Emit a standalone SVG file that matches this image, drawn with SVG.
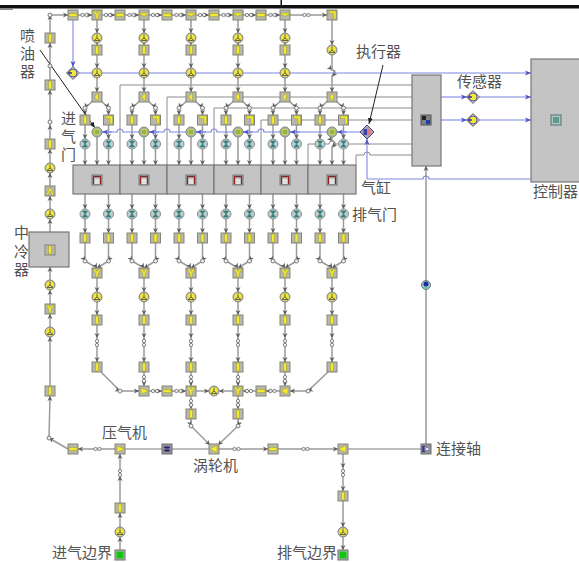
<svg xmlns="http://www.w3.org/2000/svg" width="579" height="562" viewBox="0 0 579 562">
<style>
.f{fill:none;stroke:#9a9a9a;stroke-width:1.5;marker-mid:url(#a);marker-end:url(#a)}
.p{fill:none;stroke:#a8a8a8;stroke-width:1.6}
.k{fill:none;stroke:#8c8c8c;stroke-width:1}
.b{fill:none;stroke:#7f86e4;stroke-width:1.1}
.ba{fill:none;stroke:#7f86e4;stroke-width:1.1;marker-end:url(#ab)}
.blk{fill:none;stroke:#222;stroke-width:1;marker-end:url(#ak)}
.bl{fill:#c4c4c4;stroke:#777;stroke-width:1.2}
.fr{fill:#b8b8aa;stroke:#85857a;stroke-width:1}
.y{fill:#f2e930;stroke:#8a8a30;stroke-width:.4}
.t{font-family:"Liberation Sans","Noto Sans CJK SC",sans-serif;font-size:15px;fill:#525252}
</style>
<defs>
<marker id="a" markerUnits="userSpaceOnUse" markerWidth="7" markerHeight="7" refX="5" refY="3.5" orient="auto"><path d="M0 1L5 3.5L0 6L1.5 3.5z" fill="#5c5c5c"/></marker>
<marker id="ab" markerUnits="userSpaceOnUse" markerWidth="8" markerHeight="8" refX="6" refY="4" orient="auto"><path d="M0 1.5L6 4L0 6.5L1.5 4z" fill="#4c54c8"/></marker>
<marker id="ak" markerUnits="userSpaceOnUse" markerWidth="8" markerHeight="8" refX="6" refY="4" orient="auto"><path d="M0 1.5L6 4L0 6.5z" fill="#222"/></marker>
<g id="vb"><rect class="fr" x="-5" y="-5" width="10" height="10"/><rect class="y" x="-1.500" y="-4" width="3" height="8"/></g>
<g id="hb"><rect class="fr" x="-5" y="-5" width="10" height="10"/><rect class="y" x="-4" y="-1.500" width="8" height="3"/></g>
<g id="tee"><rect class="fr" x="-5" y="-5" width="10" height="10"/><path class="y" d="M-4-2H4V0L1.500 0L0 2L-1.500 0H-4z"/></g>
<g id="yy"><rect class="fr" x="-5" y="-5" width="10" height="10"/><path class="y" d="M-4-4H-1.500L0-1.500L1.500-4H4L1.200 0.500V4H-1.200V0.500z"/></g>
<g id="aa"><rect class="fr" x="-5" y="-5" width="10" height="10"/><path class="y" d="M0-4L4 4H2L0 0L-2 4H-4z"/></g>
<g id="sp"><rect class="fr" x="-5" y="-5" width="10" height="10"/><path class="y" d="M1.500-4V4L-2 1V-1z"/></g>
<g id="crr"><rect class="fr" x="-5" y="-5" width="10" height="10"/><path class="y" d="M-3-4H4V4H1.500V-1.500H-3z"/></g>
<g id="cm"><rect class="fr" x="-5" y="-5" width="10" height="10"/><path class="y" d="M-3-3L3-1V1L-3 3z"/></g>
<g id="tu"><rect class="fr" x="-5" y="-5" width="10" height="10"/><path class="y" d="M3-3.500V3.500L-3 1V-1z"/></g>
<g id="c"><circle r="5" fill="#b8b8a8" stroke="#85857a"/><circle r="3.800" fill="#f2e930"/><path d="M0-3.500V0L-3 2.500H3L0 0" fill="none" stroke="#555" stroke-width=".9"/></g>
<circle id="o" r="2" fill="#eee" stroke="#707070" stroke-width=".9"/>
<g id="oo"><circle cx="-2.500" r="1.700" fill="#eee" stroke="#707070" stroke-width=".8"/><circle cx="1.500" r="1.700" fill="#eee" stroke="#707070" stroke-width=".8"/></g>
<g id="ov"><circle cy="-2" r="1.700" fill="#eee" stroke="#707070" stroke-width=".8"/><circle cy="2" r="1.700" fill="#eee" stroke="#707070" stroke-width=".8"/></g>
<g id="v"><circle r="5" fill="#c0cccc" stroke="#8a9090"/><path d="M-2.500-3H2.500L-2.500 3H2.500z" fill="#2a8a8a" stroke="#2a7070" stroke-width=".6"/></g>
<g id="inj"><circle r="5" fill="#a8b4a0" stroke="#80887c"/><rect x="-3" y="-2.500" width="6" height="5" fill="#e8e040"/><path d="M-2.500-1H2.500M-2.500 1H2.500" stroke="#207050" stroke-width=".8"/></g>
<g id="cy"><rect x="-5" y="-5" width="10" height="10" fill="#a09a98" stroke="#777"/><path d="M-3.500 4V-3.500H3.500V4" fill="none" stroke="#8a2020" stroke-width="1"/><rect x="-2.500" y="-1.500" width="5" height="5.500" fill="#e2e2e2"/></g>
<g id="gr"><rect x="-5" y="-5" width="10" height="10" fill="#b0b8b0" stroke="#707070"/><rect x="-3.500" y="-3.500" width="7" height="7" fill="#10c810"/></g>
<g id="sh"><rect x="-5" y="-5" width="10" height="10" fill="#8e8e98" stroke="#707070"/><path d="M-3-1.500H3M-3 1.500H3M-1-3V3M1-3V3" stroke="#1c1c70" stroke-width=".9"/></g>
<g id="cs"><rect x="-5" y="-5" width="10" height="10" fill="#8e8e98" stroke="#707070"/><path d="M3 0H-2.500M-1 -2.500H-3V2.500H-1" fill="none" stroke="#1c1c90" stroke-width="1.200"/><rect x="-.5" y="-1" width="3" height="2" fill="#e8e8f8"/></g>
<g id="dia"><path d="M0-6.500L6.500 0L0 6.500L-6.500 0z" fill="#c8c8c0" stroke="#6a6a70"/><circle r="4" fill="#f2e930" stroke="#3c44c8" stroke-width=".9"/><path d="M-5.500 0H-1" stroke="#2830b0" stroke-width="1.500"/></g>
<g id="act"><path d="M0-7L7 0L0 7L-7 0z" fill="#a8a8b8" stroke="#40407c"/><rect x="-3.500" y="-3" width="3.500" height="6" fill="#3c44a8"/><rect y="-3" x="0" width="3.500" height="6" fill="#e87878"/></g>
</defs>
<rect width="579" height="562" fill="#ffffff"/>
<rect x="0" y="5" width="579" height="3.500" fill="#111"/>
<rect x="0" y="8.500" width="13" height="1.500" fill="#888"/>
<rect x="280.500" y="0" width="1.500" height="5" fill="#111"/>

<g id="connectors">
<path class="k" d="M120 165V85H412M167 165V97H412M214 165V108H412M261 165V120H412M308 165V144H329A3 3 0 0 1 335 144H412M356 165V155H364A3 3 0 0 1 370 155H412"/>
<path class="f" d="M50 15H68H92H115H139H162H186H209H233H256H280H327"/>
<path class="f" d="M49 438L50 396V337V314V290V267"/>
<path class="f" d="M50 232V219V196V173V149V125V90V43V15"/>
<path class="f" d="M97 20V33V45V68V92"/><path class="f" d="M144 20V33V45V68V92"/><path class="f" d="M191 20V33V45V68V92"/><path class="f" d="M238 20V33V45V68V92"/><path class="f" d="M285 20V33V45V68V92"/>
<path class="f" d="M332 20V45"/><path class="f" d="M332 55V70A3 3 0 0 1 332 76V92"/>
<path class="f" d="M97 97L85 108V115V139V165"/><path class="f" d="M97 97L108.500 108V115V139V165"/><path class="f" d="M97 137V165"/>
<path class="f" d="M144 97L132 108V115V139V165"/><path class="f" d="M144 97L155.500 108V115V139V165"/><path class="f" d="M144 137V165"/>
<path class="f" d="M191 97L179 108V115V139V165"/><path class="f" d="M191 97L202.500 108V115V139V165"/><path class="f" d="M191 137V165"/>
<path class="f" d="M238 97L226 108V115V139V165"/><path class="f" d="M238 97L249.500 108V115V139V165"/><path class="f" d="M238 137V165"/>
<path class="f" d="M285 97L273 108V115V139V165"/><path class="f" d="M285 97L296.500 108V115V139V165"/><path class="f" d="M285 137V165"/>
<path class="f" d="M332 97L320 108V115V139V165"/><path class="f" d="M332 97L343.500 108V115V139V165"/><path class="f" d="M332 137V141A3 3 0 0 1 332 147V165"/>
<path class="f" d="M85 194V209V233V261L97 268V292V315V338V362"/><path class="f" d="M108.500 194V209V233V261L97 268"/>
<path class="f" d="M132 194V209V233V261L144 268V292V315V338V362"/><path class="f" d="M155.500 194V209V233V261L144 268"/>
<path class="f" d="M179 194V209V233V261L191 268V292V315V338V362"/><path class="f" d="M202.500 194V209V233V261L191 268"/>
<path class="f" d="M226 194V209V233V261L238 268V292V315V338V362"/><path class="f" d="M249.500 194V209V233V261L238 268"/>
<path class="f" d="M273 194V209V233V261L285 268V292V315V338V362"/><path class="f" d="M296.500 194V209V233V261L285 268"/>
<path class="f" d="M320 194V209V233V261L332 268V292V315V338V362"/><path class="f" d="M343.500 194V209V233V261L332 268"/>
<path class="f" d="M101 372L120 391H139"/><path class="f" d="M149 391H162"/><path class="f" d="M172 391H186"/><path class="f" d="M196 391H209"/>
<path class="f" d="M328 372L308 391H290"/><path class="f" d="M280 391H266"/><path class="f" d="M256 391H243"/><path class="f" d="M233 391H219"/>
<path class="f" d="M144 372V386"/><path class="f" d="M191 372V386"/><path class="f" d="M238 372V386"/><path class="f" d="M285 372V386"/>
<path class="f" d="M191 396V409"/><path class="f" d="M238 396V409"/>
<path class="f" d="M191 419V426L210 445"/><path class="f" d="M238 419V426L218 445"/>
<path class="f" d="M115 449H78"/>
<path class="f" d="M68 449L49 438"/>
<path class="f" d="M219 449H268"/><path class="f" d="M278 449H338"/>
<path class="p" d="M125 449H209M348 449H421"/>
<path class="f" d="M120 550V537V513V476V454"/>
<path class="f" d="M343 454V468V491V527V550"/>
<path class="f" d="M426 444V166"/>
<path class="ba" d="M73 20V67"/>
<path class="ba" d="M80 73H531"/>
<path class="ba" d="M441 97H467"/><path class="ba" d="M479 97H531"/>
<path class="ba" d="M441 120H467"/><path class="ba" d="M479 120H531"/>
<path class="b" d="M360 132H264A3 3 0 0 0 258 132H217A3 3 0 0 0 211 132H170A3 3 0 0 0 164 132H123A3 3 0 0 0 117 132H102"/>
<path class="ba" d="M112 132H102"/><path class="ba" d="M159 132H149"/><path class="ba" d="M206 132H196"/><path class="ba" d="M253 132H243"/><path class="ba" d="M300 132H290"/><path class="ba" d="M347 132H337"/>
<path class="b" d="M367 179H423A3 3 0 0 1 429 179H531"/>
<path class="ba" d="M367 179V139"/>
<path class="blk" d="M40 50L95 128"/>
<path class="blk" d="M383 65L369 124"/>
</g>

<g id="cyl-1"><rect class="bl" x="73" y="165" width="47" height="29"/><use href="#cy" x="97" y="180"/></g>
<g id="cyl-2"><rect class="bl" x="120" y="165" width="47" height="29"/><use href="#cy" x="144" y="180"/></g>
<g id="cyl-3"><rect class="bl" x="167" y="165" width="47" height="29"/><use href="#cy" x="191" y="180"/></g>
<g id="cyl-4"><rect class="bl" x="214" y="165" width="47" height="29"/><use href="#cy" x="238" y="180"/></g>
<g id="cyl-5"><rect class="bl" x="261" y="165" width="47" height="29"/><use href="#cy" x="285" y="180"/></g>
<g id="cyl-6"><rect class="bl" x="308" y="165" width="48" height="29"/><use href="#cy" x="332" y="180"/></g>
<g id="intercooler"><rect class="bl" x="29" y="232" width="40" height="35"/><use href="#vb" x="50" y="250"/></g>
<g id="ecu"><rect class="bl" x="412" y="75" width="29" height="91"/><rect x="421" y="115" width="10" height="10" fill="#808088" stroke="#555"/><rect x="422" y="116" width="4" height="4" fill="#222"/><rect x="426" y="120" width="4" height="4" fill="#2040b0"/></g>
<g id="controller"><rect class="bl" x="531" y="59" width="50" height="123"/><rect x="551" y="115" width="10" height="10" fill="#a8c8c0" stroke="#507070"/><path d="M553 118H559M553 120H559M553 122H559" stroke="#0a6050" stroke-width=".9"/></g>

<g id="left-pipe">
<use href="#o" x="50" y="15"/><use href="#vb" x="50" y="38"/><use href="#o" x="50" y="66"/><use href="#vb" x="50" y="85"/><use href="#o" x="50" y="122"/><use href="#vb" x="50" y="144"/><use href="#c" x="50" y="168"/><use href="#aa" x="50" y="191"/><use href="#c" x="50" y="214"/><use href="#c" x="50" y="285"/><use href="#yy" x="50" y="309"/><use href="#c" x="50" y="332"/><use href="#vb" x="50" y="391"/><use href="#o" x="49" y="438"/>
</g>
<g id="top-row">
<use href="#hb" x="73" y="15"/><use href="#yy" x="97" y="15"/><use href="#hb" x="120" y="15"/><use href="#tee" x="144" y="15"/><use href="#hb" x="167" y="15"/><use href="#tee" x="191" y="15"/><use href="#hb" x="214" y="15"/><use href="#tee" x="238" y="15"/><use href="#hb" x="261" y="15"/><use href="#tee" x="285" y="15"/><use href="#crr" x="332" y="15"/>
<use href="#oo" x="85" y="15"/><use href="#oo" x="108.500" y="15"/><use href="#oo" x="132" y="15"/><use href="#oo" x="155.500" y="15"/><use href="#oo" x="179" y="15"/><use href="#oo" x="202.500" y="15"/><use href="#oo" x="226" y="15"/><use href="#oo" x="249.500" y="15"/><use href="#oo" x="273" y="15"/><use href="#oo" x="307" y="15"/>
</g>
<g id="col-1">
<use href="#c" x="97" y="38"/><use href="#vb" x="97" y="50"/><use href="#c" x="97" y="73"/><use href="#sp" x="97" y="97"/><use href="#o" x="85" y="108"/><use href="#o" x="108.500" y="108"/><use href="#vb" x="85" y="120"/><use href="#crr" x="108.500" y="120"/><use href="#inj" x="97" y="132"/><use href="#v" x="85" y="144"/><use href="#v" x="108.500" y="144"/><use href="#v" x="85" y="214"/><use href="#v" x="108.500" y="214"/><use href="#vb" x="85" y="238"/><use href="#vb" x="108.500" y="238"/><use href="#o" x="85" y="261"/><use href="#o" x="108.500" y="261"/><use href="#yy" x="97" y="273"/><use href="#c" x="97" y="297"/><use href="#vb" x="97" y="320"/><use href="#ov" x="97" y="343"/><use href="#vb" x="97" y="367"/>
</g>
<g id="col-2">
<use href="#c" x="144" y="38"/><use href="#vb" x="144" y="50"/><use href="#c" x="144" y="73"/><use href="#sp" x="144" y="97"/><use href="#o" x="132" y="108"/><use href="#o" x="155.500" y="108"/><use href="#vb" x="132" y="120"/><use href="#crr" x="155.500" y="120"/><use href="#inj" x="144" y="132"/><use href="#v" x="132" y="144"/><use href="#v" x="155.500" y="144"/><use href="#v" x="132" y="214"/><use href="#v" x="155.500" y="214"/><use href="#vb" x="132" y="238"/><use href="#vb" x="155.500" y="238"/><use href="#o" x="132" y="261"/><use href="#o" x="155.500" y="261"/><use href="#yy" x="144" y="273"/><use href="#c" x="144" y="297"/><use href="#vb" x="144" y="320"/><use href="#ov" x="144" y="343"/><use href="#vb" x="144" y="367"/>
</g>
<g id="col-3">
<use href="#c" x="191" y="38"/><use href="#vb" x="191" y="50"/><use href="#c" x="191" y="73"/><use href="#sp" x="191" y="97"/><use href="#o" x="179" y="108"/><use href="#o" x="202.500" y="108"/><use href="#vb" x="179" y="120"/><use href="#crr" x="202.500" y="120"/><use href="#inj" x="191" y="132"/><use href="#v" x="179" y="144"/><use href="#v" x="202.500" y="144"/><use href="#v" x="179" y="214"/><use href="#v" x="202.500" y="214"/><use href="#vb" x="179" y="238"/><use href="#vb" x="202.500" y="238"/><use href="#o" x="179" y="261"/><use href="#o" x="202.500" y="261"/><use href="#yy" x="191" y="273"/><use href="#c" x="191" y="297"/><use href="#vb" x="191" y="320"/><use href="#ov" x="191" y="343"/><use href="#vb" x="191" y="367"/>
</g>
<g id="col-4">
<use href="#c" x="238" y="38"/><use href="#vb" x="238" y="50"/><use href="#c" x="238" y="73"/><use href="#sp" x="238" y="97"/><use href="#o" x="226" y="108"/><use href="#o" x="249.500" y="108"/><use href="#vb" x="226" y="120"/><use href="#crr" x="249.500" y="120"/><use href="#inj" x="238" y="132"/><use href="#v" x="226" y="144"/><use href="#v" x="249.500" y="144"/><use href="#v" x="226" y="214"/><use href="#v" x="249.500" y="214"/><use href="#vb" x="226" y="238"/><use href="#vb" x="249.500" y="238"/><use href="#o" x="226" y="261"/><use href="#o" x="249.500" y="261"/><use href="#yy" x="238" y="273"/><use href="#c" x="238" y="297"/><use href="#vb" x="238" y="320"/><use href="#ov" x="238" y="343"/><use href="#vb" x="238" y="367"/>
</g>
<g id="col-5">
<use href="#c" x="285" y="38"/><use href="#vb" x="285" y="50"/><use href="#c" x="285" y="73"/><use href="#sp" x="285" y="97"/><use href="#o" x="273" y="108"/><use href="#o" x="296.500" y="108"/><use href="#vb" x="273" y="120"/><use href="#crr" x="296.500" y="120"/><use href="#inj" x="285" y="132"/><use href="#v" x="273" y="144"/><use href="#v" x="296.500" y="144"/><use href="#v" x="273" y="214"/><use href="#v" x="296.500" y="214"/><use href="#vb" x="273" y="238"/><use href="#vb" x="296.500" y="238"/><use href="#o" x="273" y="261"/><use href="#o" x="296.500" y="261"/><use href="#yy" x="285" y="273"/><use href="#c" x="285" y="297"/><use href="#vb" x="285" y="320"/><use href="#ov" x="285" y="343"/><use href="#vb" x="285" y="367"/>
</g>
<g id="col-6">
<use href="#c" x="332" y="50"/><use href="#sp" x="332" y="97"/><use href="#o" x="320" y="108"/><use href="#o" x="343.500" y="108"/><use href="#vb" x="320" y="120"/><use href="#crr" x="343.500" y="120"/><use href="#inj" x="332" y="132"/><use href="#v" x="320" y="144"/><use href="#v" x="343.500" y="144"/><use href="#v" x="320" y="214"/><use href="#v" x="343.500" y="214"/><use href="#vb" x="320" y="238"/><use href="#vb" x="343.500" y="238"/><use href="#o" x="320" y="261"/><use href="#o" x="343.500" y="261"/><use href="#yy" x="332" y="273"/><use href="#c" x="332" y="297"/><use href="#vb" x="332" y="320"/><use href="#ov" x="332" y="343"/><use href="#vb" x="332" y="367"/>
</g>
<g id="bottom-row">
<use href="#ov" x="144" y="379"/><use href="#ov" x="191" y="379"/><use href="#ov" x="238" y="379"/><use href="#ov" x="285" y="379"/>
<use href="#o" x="120" y="391"/><use href="#cm" x="144" y="391"/><use href="#oo" x="155.500" y="391"/><use href="#hb" x="167" y="391"/><use href="#oo" x="179" y="391"/><use href="#yy" x="191" y="391"/><use href="#c" x="214" y="391"/><use href="#yy" x="238" y="391"/><use href="#oo" x="249.500" y="391"/><use href="#hb" x="261" y="391"/><use href="#oo" x="273" y="391"/><use href="#tu" x="285" y="391"/><use href="#o" x="308" y="391"/>
<use href="#ov" x="191" y="403"/><use href="#ov" x="238" y="403"/><use href="#vb" x="191" y="414"/><use href="#vb" x="238" y="414"/><use href="#o" x="191" y="426"/><use href="#o" x="238" y="426"/>
</g>
<g id="shaft-row">
<use href="#hb" x="73" y="449"/><use href="#oo" x="98" y="449"/><use href="#cm" x="120" y="449"/><use href="#sh" x="167" y="449"/><use href="#tu" x="214" y="449"/><use href="#oo" x="237" y="449"/><use href="#hb" x="273" y="449"/><use href="#oo" x="306" y="449"/><use href="#tu" x="343" y="449"/><use href="#cs" x="426" y="449"/>
</g>
<g id="intake"><use href="#ov" x="120" y="473"/><use href="#vb" x="120" y="508"/><use href="#c" x="120" y="532"/><use href="#gr" x="120" y="555"/></g>
<g id="exhaust"><use href="#ov" x="343" y="473"/><use href="#vb" x="343" y="496"/><use href="#c" x="343" y="532"/><use href="#gr" x="343" y="555"/></g>
<g id="actuators"><use href="#dia" x="73" y="73"/><use href="#act" x="367" y="132"/></g>
<g id="sensors"><use href="#dia" x="473" y="97"/><use href="#dia" x="473" y="120"/></g>
<g id="shaft-probe"><circle cx="426" cy="285" r="4.500" fill="#a8c0c0" stroke="#707c80"/><path d="M422.500 287A4 4 0 0 0 429.500 287z" fill="#60c8b8"/><circle cx="426" cy="284" r="2.500" fill="#1c2ca8"/></g>

<g id="labels">
<text class="t"><tspan x="20" y="41">喷</tspan><tspan x="20" y="59">油</tspan><tspan x="20" y="77">器</tspan></text>
<text class="t"><tspan x="61" y="124">进</tspan><tspan x="61" y="142">气</tspan><tspan x="61" y="160">门</tspan></text>
<text class="t" x="356" y="57">执行器</text>
<text class="t" x="457" y="87">传感器</text>
<text class="t" x="361" y="193">气缸</text>
<text class="t" x="533" y="197">控制器</text>
<text class="t" x="352" y="220">排气门</text>
<text class="t"><tspan x="14" y="238">中</tspan><tspan x="14" y="257">冷</tspan><tspan x="14" y="275">器</tspan></text>
<text class="t" x="102" y="438">压气机</text>
<text class="t" x="193" y="471">涡轮机</text>
<text class="t" x="436" y="454">连接轴</text>
<text class="t" x="52" y="558">进气边界</text>
<text class="t" x="277" y="558">排气边界</text>
</g>
</svg>
